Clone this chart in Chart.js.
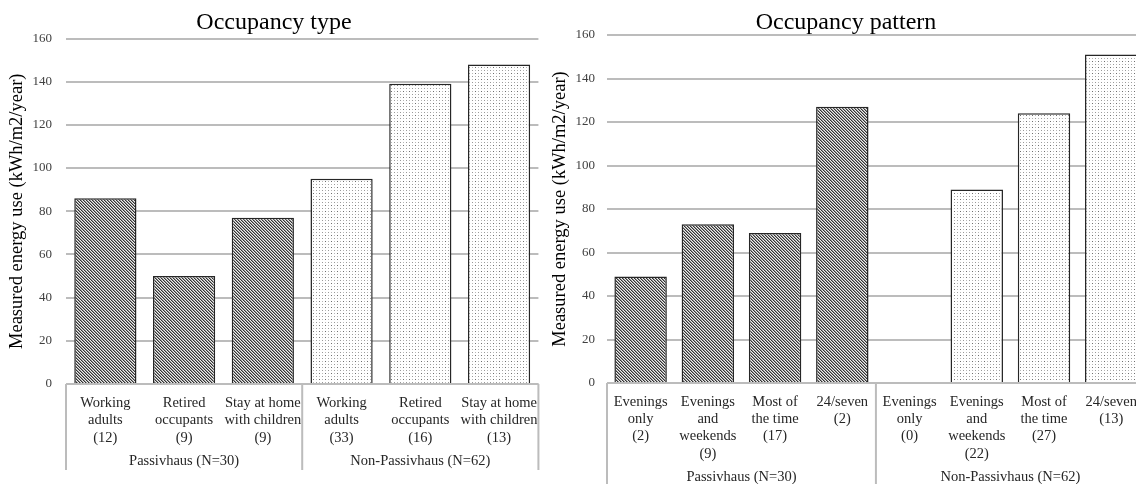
<!DOCTYPE html>
<html>
<head>
<meta charset="utf-8">
<script src="https://cdn.jsdelivr.net/npm/chart.js@4.4.1/dist/chart.umd.min.js"></script>
<style>
body{ margin:0; width:1136px; height:484px; overflow:hidden; background:#fff; position:relative; }
.box{ position:absolute; top:0; }
#boxType{ left:0; width:548px; height:484px; }
#boxPattern{ left:545px; width:602px; height:490px; }
</style>
</head>
<body>
<div class="box" id="boxType"><canvas id="chartType" width="548" height="484"></canvas></div>
<div class="box" id="boxPattern"><canvas id="chartPattern" width="602" height="490"></canvas></div>
<script>
var groupLabels = ["Passivhaus (N=30)", "Non-Passivhaus (N=62)"];

var typeLabels = [
	["Working","adults","(12)"], ["Retired","occupants","(9)"], ["Stay at home","with children","(9)"],
	["Working","adults","(33)"], ["Retired","occupants","(16)"], ["Stay at home","with children","(13)"]
];
var typeGroup = [0, 0, 0, 1, 1, 1];
var typeValues = [86, 50, 77, 95, 139, 148];

var patternLabels = [
	["Evenings","only","(2)"], ["Evenings","and","weekends","(9)"], ["Most of","the time","(17)"], ["24/seven","(2)"],
	["Evenings","only","(0)"], ["Evenings","and","weekends","(22)"], ["Most of","the time","(27)"], ["24/seven","(13)"]
];
var patternGroup = [0, 0, 0, 0, 1, 1, 1, 1];
var patternValues = [49, 73, 69, 127, null, 89, 124, 151];

var yMin = 0, yMax = 160, yStep = 20;
var yTitle = "Measured energy use (kWh/m2/year)";

var serif = "'Liberation Serif', 'Times New Roman', serif";
var gridGray = "#bcbcbc";

// dark diagonal hatch for Passivhaus bars
function makeHatch(ctx){
	var c = document.createElement("canvas");
	c.width = 6; c.height = 6;
	var g = c.getContext("2d");
	var shades = ["#333333", "#959595", "#eeeeee"];
	for(var x = 0; x < 6; x++){
		for(var y = 0; y < 6; y++){
			g.fillStyle = shades[((x - y) % 3 + 3) % 3];
			g.fillRect(x, y, 1, 1);
		}
	}
	return ctx.createPattern(c, "repeat");
}

// light dots for the other ones
function makeDots(ctx){
	var c = document.createElement("canvas");
	c.width = 6; c.height = 6;
	var g = c.getContext("2d");
	g.fillStyle = "#fff"; g.fillRect(0, 0, 6, 6);
	g.fillStyle = "#6e6e6e"; g.fillRect(1, 1, 1, 1);
	g.fillStyle = "#b8b8b8"; g.fillRect(4, 1, 1, 1); g.fillRect(1, 4, 1, 1);
	g.fillStyle = "#999"; g.fillRect(4, 4, 1, 1);
	return ctx.createPattern(c, "repeat");
}

// lines of the two level category axis
var groupBoxes = {
	id: "groupBoxes",
	afterDraw: function(chart, args, opts){
		var x = chart.scales.x, area = chart.chartArea, c = chart.ctx;
		var k = opts.split;
		var mid = (x.getPixelForValue(k - 1) + x.getPixelForValue(k)) / 2;
		var bottom = chart.scales.x2.bottom;
		c.save();
		c.strokeStyle = gridGray;
		c.lineWidth = 2;
		c.beginPath();
		[area.left, mid, area.right].forEach(function(px){
			c.moveTo(px, area.bottom);
			c.lineTo(px, bottom);
		});
		c.moveTo(area.left, area.bottom);
		c.lineTo(area.right, area.bottom);
		c.stroke();
		c.restore();
	}
};

function buildChart(canvasId, title, labels, groups, values, setup){
	var ctx = document.getElementById(canvasId).getContext("2d");
	var fills = [makeHatch(ctx), makeDots(ctx)];
	return new Chart(ctx, {
		type: "bar",
		data: {
			labels: labels,
			datasets: [{
				data: values,
				backgroundColor: groups.map(function(g){ return fills[g]; }),
				borderColor: "#262626",
				borderWidth: 1.5,
				barPercentage: setup.bar,
				categoryPercentage: 1
			}]
		},
		plugins: [groupBoxes],
		options: {
			responsive: false,
			animation: false,
			layout: { padding: setup.padding },
			plugins: {
				legend: { display: false },
				tooltip: { enabled: false },
				title: {
					display: true, text: title, color: "#000",
					font: { family: serif, size: 24, weight: "normal", lineHeight: 1 },
					padding: { top: 11, bottom: setup.titleBottom }
				},
				groupBoxes: { split: setup.split }
			},
			scales: {
				y: {
					min: yMin, max: yMax,
					ticks: { stepSize: yStep, color: "#404040", padding: setup.tickPad, font: { family: serif, size: 13 } },
					grid: { color: gridGray, lineWidth: 2, drawTicks: false },
					border: { display: false },
					title: {
						display: true, text: yTitle, color: "#000",
						font: { family: serif, size: 18.5, lineHeight: 1.2 },
						padding: { top: setup.titlePad, bottom: 0 }
					},
					afterFit: function(s){ s.width = setup.left; }
				},
				x: {
					grid: { display: false, drawTicks: false },
					border: { display: false },
					ticks: {
						color: "#262626", autoSkip: false, maxRotation: 0, padding: setup.xPad,
						font: { family: serif, size: 14.5, lineHeight: 1.2 }
					},
					afterFit: function(s){ s.height = setup.xHeight; }
				},
				x2: {
					type: "category", position: "bottom", labels: groupLabels, offset: true,
					grid: { display: false, drawTicks: false },
					border: { display: false },
					ticks: { color: "#262626", padding: setup.x2Pad, font: { family: serif, size: 14.5, lineHeight: 1.2 } },
					afterFit: function(s){ s.height = setup.x2Height; }
				}
			}
		}
	});
}

buildChart("chartType", "Occupancy type", typeLabels, typeGroup, typeValues, {
	bar: 0.79, split: 3, left: 66, tickPad: 14, titlePad: 6, xPad: 10.5, x2Pad: 4,
	xHeight: 64, x2Height: 22, titleBottom: 3.5,
	padding: { left: 0, right: 0, top: 0, bottom: 14 }
});

buildChart("chartPattern", "Occupancy pattern", patternLabels, patternGroup, patternValues, {
	bar: 0.78, split: 4, left: 62, tickPad: 12, titlePad: 4, xPad: 10, x2Pad: 5.5,
	xHeight: 80, x2Height: 25, titleBottom: 0,
	padding: { left: 0, right: 0, top: 0, bottom: 2 }
});
</script>
</body>
</html>
